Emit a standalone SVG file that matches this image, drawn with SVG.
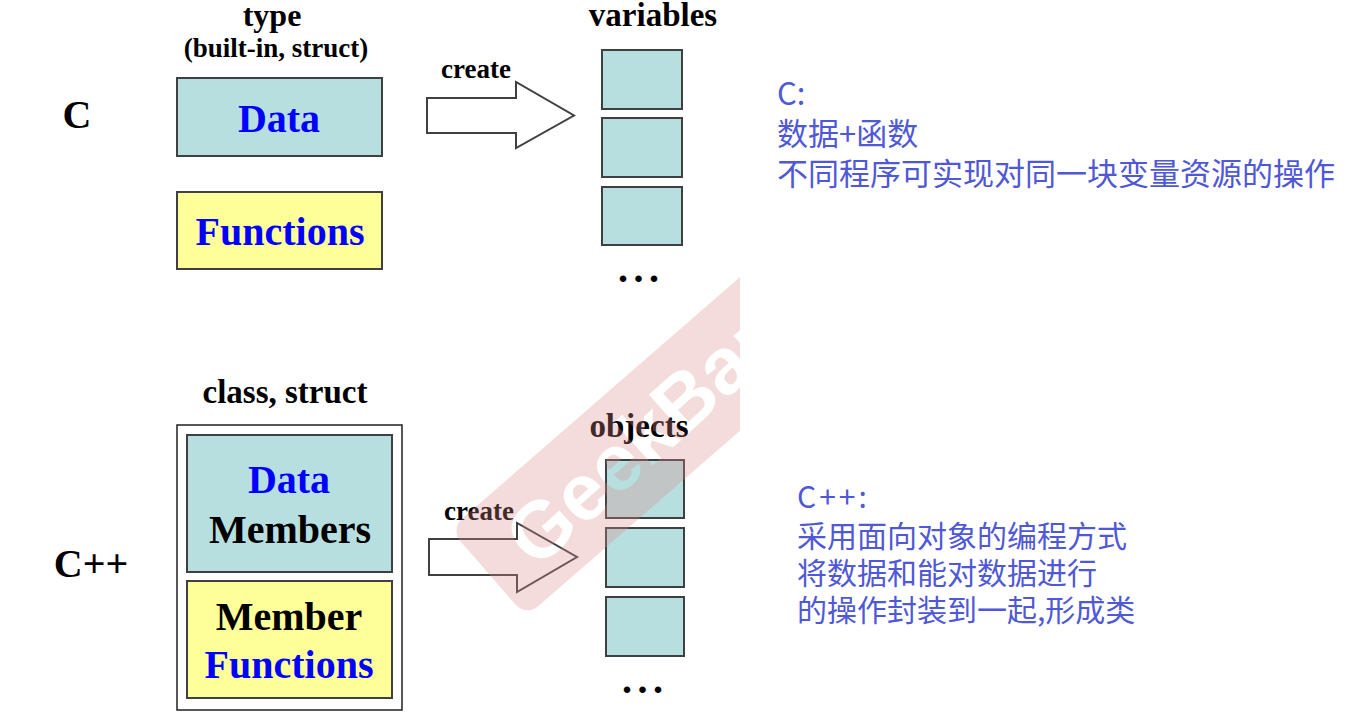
<svg xmlns="http://www.w3.org/2000/svg" width="1350" height="722" viewBox="0 0 1350 722">
<style>
.t{font-family:"Liberation Serif","Times New Roman",serif;font-weight:bold;fill:#000;text-anchor:middle}
.blue{fill:#0000ff}
.box{stroke:#404040;stroke-width:2}
.teal{fill:#b8dfe0}
.yel{fill:#ffff99}
.arrow{fill:#fff;stroke:#404040;stroke-width:2;stroke-linejoin:miter}
.note{font-family:"Noto Sans CJK SC","Noto Sans",sans-serif;fill:#4f58d6}
.dots{font-family:"Liberation Serif",serif;font-weight:bold;font-size:40px;letter-spacing:5.5px;fill:#000}
</style>
<defs>
<clipPath id="wmclip"><rect x="0" y="0" width="740" height="722"/></clipPath>
<mask id="wmmask" maskUnits="userSpaceOnUse" x="0" y="0" width="1350" height="722">
<rect x="0" y="0" width="1350" height="722" fill="#fff"/>
<text transform="translate(540,528) rotate(-42)" x="-31" y="29" font-family="Liberation Sans,Arial,sans-serif" font-weight="bold" font-size="80" fill="#000">GeekBang</text>
</mask>
</defs>
<rect width="1350" height="722" fill="#fff"/>

<g id="c-label"><text class="t" x="77" y="128" font-size="40">C</text></g>
<g id="type-label">
<text class="t" x="272" y="26" font-size="32">type</text>
<text class="t" x="276" y="57" font-size="27">(built-in, struct)</text>
</g>
<g id="c-data"><rect class="box teal" x="177" y="78" width="205" height="78"/><text class="t blue" x="279" y="132" font-size="40">Data</text></g>
<g id="c-functions"><rect class="box yel" x="177" y="192" width="205" height="77"/><text class="t blue" x="280" y="245" font-size="40">Functions</text></g>

<g id="variables">
<text class="t" x="653" y="26" font-size="33">variables</text>
<rect class="box teal" x="602" y="50" width="80" height="59"/>
<rect class="box teal" x="602" y="118" width="80" height="59"/>
<rect class="box teal" x="602" y="187" width="80" height="58"/>
<text class="dots" x="618" y="282">...</text>
</g>

<g id="cpp-label"><text class="t" x="91" y="577" font-size="40">C++</text></g>
<g id="class-struct">
<text class="t" x="285" y="403" font-size="33">class, struct</text>
<rect x="177" y="425" width="225" height="285" fill="#fff" stroke="#202020" stroke-width="1.5"/>
</g>
<g id="data-members"><rect class="box teal" x="187" y="435" width="205" height="137"/>
<text class="t blue" x="289" y="493" font-size="40">Data</text>
<text class="t" x="290" y="543" font-size="40">Members</text></g>
<g id="member-functions"><rect class="box yel" x="187" y="581" width="205" height="117"/>
<text class="t" x="289" y="630" font-size="40">Member</text>
<text class="t blue" x="289" y="678" font-size="40">Functions</text></g>

<g id="objects">
<text class="t" x="639" y="437" font-size="33">objects</text>
<rect class="box teal" x="606" y="460" width="78" height="58"/>
<rect class="box teal" x="606" y="528" width="78" height="59"/>
<rect class="box teal" x="606" y="597" width="78" height="59"/>
<text class="dots" x="622" y="693">...</text>
</g>

<g id="connectors">
<polygon class="arrow" points="427,98 516,98 516,82 574,115.5 516,148 516,133 427,133"/>
<text class="t" x="476" y="78" font-size="27">create</text>
<polygon class="arrow" points="429,539 517,539 517,523 577,557 517,592 517,575 429,575"/>
<text class="t" x="479" y="520" font-size="27">create</text>
</g>

<g id="note-c" class="note">
<text x="777" y="105" font-size="31">C:</text>
<text x="777" y="145" font-size="31">数据+函数</text>
<text x="777" y="185" font-size="31">不同程序可实现对同一块变量资源的操作</text>
</g>
<g id="note-cpp" class="note">
<text x="797" y="508" font-size="30" letter-spacing="3">C++:</text>
<text x="797" y="547" font-size="30">采用面向对象的编程方式</text>
<text x="797" y="584" font-size="30">将数据和能对数据进行</text>
<text x="797" y="621" font-size="30">的操作封装到一起,形成类</text>
</g>

<g id="watermark" clip-path="url(#wmclip)">
<g mask="url(#wmmask)">
<rect transform="translate(488,573) rotate(-41)" x="0" y="-58" width="650" height="116" rx="16" fill="#d98a8a" fill-opacity="0.3"/>
</g>
</g>
</svg>
